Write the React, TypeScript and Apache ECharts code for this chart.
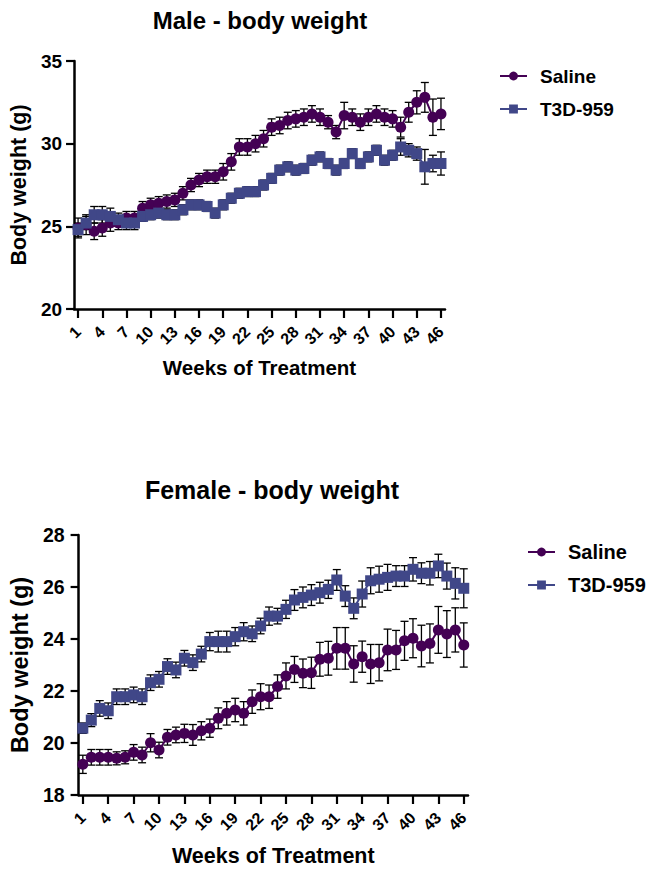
import React, { useEffect, useRef } from "react";
import * as echarts from "echarts";

const weeks: string[] = Array.from({ length: 46 }, (_, i) => String(i + 1));

const maleSaline = [24.9, 25.1, 24.7, 24.9, 25.2, 25.2, 25.5, 25.5, 26.1, 26.3, 26.4, 26.5, 26.6, 27.0, 27.5, 27.8, 28.0, 28.0, 28.3, 28.9, 29.8, 29.8, 30.0, 30.3, 31.0, 31.1, 31.4, 31.5, 31.6, 31.8, 31.6, 31.3, 30.7, 31.7, 31.6, 31.3, 31.6, 31.8, 31.6, 31.5, 31.0, 31.9, 32.5, 32.8, 31.6, 31.8];
const maleSalineErr = [0.6, 0.6, 0.5, 0.5, 0.5, 0.4, 0.4, 0.4, 0.4, 0.4, 0.4, 0.4, 0.4, 0.4, 0.4, 0.4, 0.4, 0.4, 0.5, 0.5, 0.5, 0.5, 0.5, 0.5, 0.5, 0.5, 0.5, 0.5, 0.5, 0.5, 0.5, 0.4, 0.4, 0.8, 0.5, 0.5, 0.5, 0.5, 0.5, 0.5, 0.6, 0.6, 0.7, 0.9, 1.1, 0.95];
const maleT3D = [24.8, 25.2, 25.7, 25.7, 25.6, 25.4, 25.2, 25.2, 25.6, 25.7, 25.8, 25.7, 25.7, 26.0, 26.3, 26.3, 26.2, 25.8, 26.3, 26.7, 27.0, 27.1, 27.1, 27.5, 27.9, 28.4, 28.6, 28.4, 28.5, 29.0, 29.2, 28.8, 28.4, 28.8, 29.4, 28.8, 29.2, 29.6, 29.0, 29.3, 29.8, 29.6, 29.4, 28.6, 28.8, 28.8];
const maleT3DErr = [0.4, 0.4, 0.5, 0.5, 0.5, 0.4, 0.4, 0.4, 0.3, 0.3, 0.3, 0.3, 0.3, 0.3, 0.3, 0.3, 0.3, 0.3, 0.3, 0.3, 0.3, 0.3, 0.3, 0.3, 0.3, 0.3, 0.3, 0.3, 0.3, 0.3, 0.3, 0.3, 0.3, 0.3, 0.3, 0.3, 0.3, 0.3, 0.3, 0.3, 0.5, 0.4, 0.4, 1.05, 0.5, 0.7];

const femaleSaline = [19.18, 19.45, 19.45, 19.45, 19.41, 19.45, 19.64, 19.54, 20.01, 19.73, 20.22, 20.31, 20.37, 20.31, 20.47, 20.57, 20.95, 21.14, 21.27, 21.14, 21.59, 21.78, 21.78, 22.17, 22.58, 22.83, 22.68, 22.7, 23.22, 23.26, 23.64, 23.64, 23.04, 23.32, 23.04, 23.09, 23.58, 23.58, 23.93, 24.03, 23.73, 23.83, 24.35, 24.19, 24.35, 23.77];
const femaleSalineErr = [0.35, 0.3, 0.3, 0.3, 0.25, 0.25, 0.3, 0.3, 0.35, 0.3, 0.3, 0.3, 0.35, 0.4, 0.35, 0.35, 0.4, 0.45, 0.45, 0.45, 0.45, 0.5, 0.45, 0.45, 0.5, 0.5, 0.55, 0.6, 0.65, 0.65, 0.8, 0.8, 0.7, 0.6, 0.75, 0.7, 0.8, 0.75, 0.75, 0.75, 0.8, 0.75, 0.9, 0.9, 0.85, 0.85];
const femaleT3D = [20.57, 20.88, 21.33, 21.24, 21.78, 21.78, 21.85, 21.78, 22.32, 22.45, 22.94, 22.81, 23.26, 23.09, 23.42, 23.9, 23.9, 23.9, 24.09, 24.28, 24.2, 24.5, 24.88, 24.88, 25.14, 25.5, 25.6, 25.69, 25.78, 25.91, 26.27, 25.65, 25.18, 25.73, 26.24, 26.3, 26.37, 26.42, 26.42, 26.68, 26.53, 26.53, 26.81, 26.42, 26.14, 25.95];
const femaleT3DErr = [0.2, 0.25, 0.3, 0.3, 0.3, 0.3, 0.3, 0.3, 0.3, 0.3, 0.3, 0.3, 0.3, 0.3, 0.3, 0.35, 0.4, 0.4, 0.35, 0.35, 0.3, 0.3, 0.35, 0.3, 0.35, 0.4, 0.4, 0.4, 0.4, 0.35, 0.4, 0.4, 0.4, 0.5, 0.5, 0.5, 0.5, 0.4, 0.4, 0.45, 0.4, 0.45, 0.45, 0.5, 0.6, 0.75];

const SALINE = "#440154";
const T3D = "#404788";
const FONT = "Liberation Sans";

function errData(vals: number[], errs: number[]) {
  return vals.map((v, i) => [i, v - errs[i], v + errs[i]]);
}

function errSeries(vals: number[], errs: number[], idx: number) {
  return {
    type: "custom",
    xAxisIndex: idx,
    yAxisIndex: idx,
    z: 1,
    silent: true,
    encode: { x: 0, y: [1, 2] },
    data: errData(vals, errs),
    renderItem: (params: any, api: any) => {
      const x = api.value(0);
      const lo = api.coord([x, api.value(1)]);
      const hi = api.coord([x, api.value(2)]);
      const w = 4;
      const st = { stroke: "#000", lineWidth: 1.3 };
      return {
        type: "group",
        children: [
          { type: "line", shape: { x1: lo[0], y1: lo[1], x2: hi[0], y2: hi[1] }, style: st },
          { type: "line", shape: { x1: hi[0] - w, y1: hi[1], x2: hi[0] + w, y2: hi[1] }, style: st },
          { type: "line", shape: { x1: lo[0] - w, y1: lo[1], x2: lo[0] + w, y2: lo[1] }, style: st },
        ],
      };
    },
  };
}

function lineSeries(name: string, vals: number[], idx: number, color: string, symbol: string, size: number) {
  return {
    type: "line",
    name,
    xAxisIndex: idx,
    yAxisIndex: idx,
    z: 3,
    data: vals,
    symbol,
    symbolSize: size,
    showAllSymbol: true,
    itemStyle: { color },
    lineStyle: { color, width: 2 },
  };
}

function xAxis(idx: number, nameSize: number, nameGap: number) {
  return {
    type: "category",
    gridIndex: idx,
    data: weeks,
    boundaryGap: true,
    name: "Weeks of Treatment",
    nameLocation: "middle",
    nameGap,
    nameTextStyle: { fontFamily: FONT, fontWeight: "bold", fontSize: nameSize, color: "#000" },
    axisLine: { lineStyle: { color: "#000", width: 2.5 } },
    axisTick: { show: true, interval: 2, alignWithLabel: true, length: 9, lineStyle: { color: "#000", width: 2.2 } },
    axisLabel: { interval: 2, rotate: 45, fontFamily: FONT, fontWeight: "bold", fontSize: 16, color: "#000", margin: 20 },
    splitLine: { show: false },
  };
}

function yAxis(idx: number, min: number, max: number, interval: number, nameSize: number, nameGap: number, labelSize: number, margin: number) {
  return {
    type: "value",
    gridIndex: idx,
    min,
    max,
    interval,
    name: "Body weight (g)",
    nameLocation: "middle",
    nameGap,
    nameTextStyle: { fontFamily: FONT, fontWeight: "bold", fontSize: nameSize, color: "#000" },
    axisLine: { show: true, lineStyle: { color: "#000", width: 2.5 } },
    axisTick: { show: true, length: 8, lineStyle: { color: "#000", width: 2.2 } },
    axisLabel: { fontFamily: FONT, fontWeight: "bold", fontSize: labelSize, color: "#000", margin },
    splitLine: { show: false },
  };
}

function legend(left: number, top: number, size: number) {
  return {
    orient: "vertical",
    left,
    top,
    itemWidth: 27,
    itemHeight: 11,
    itemGap: 13,
    data: ["Saline", "T3D-959"],
    textStyle: { fontFamily: FONT, fontWeight: "bold", fontSize: size, lineHeight: 20, color: "#000", padding: [0, 0, 0, 8] },
  };
}

export default function App() {
  const ref = useRef<HTMLDivElement>(null);
  useEffect(() => {
    if (!ref.current) return;
    const chart = echarts.init(ref.current, null, { renderer: "svg" });
    chart.setOption({
      animation: false,
      backgroundColor: "#fff",
      title: [
        { text: "Male - body weight", left: 255, top: 3, textAlign: "center", textStyle: { fontFamily: FONT, fontWeight: "bold", fontSize: 24, color: "#000" } },
        { text: "Female - body weight", left: 267, top: 472, textAlign: "center", textStyle: { fontFamily: FONT, fontWeight: "bold", fontSize: 25, color: "#000" } },
      ],
      legend: [legend(494, 61, 19), legend(522, 537, 20)],
      grid: [
        { left: 73, width: 372, top: 61, height: 248, containLabel: false },
        { left: 77, width: 391, top: 535, height: 260, containLabel: false },
      ],
      xAxis: [xAxis(0, 20.5, 48), xAxis(1, 21.5, 50)],
      yAxis: [yAxis(0, 20, 35, 5, 21.5, 41, 19, 12), yAxis(1, 18, 28, 2, 23.5, 42, 19.5, 14)],
      series: [
        errSeries(maleSaline, maleSalineErr, 0),
        errSeries(maleT3D, maleT3DErr, 0),
        lineSeries("Saline", maleSaline, 0, SALINE, "circle", 11),
        lineSeries("T3D-959", maleT3D, 0, T3D, "rect", 11),
        errSeries(femaleSaline, femaleSalineErr, 1),
        errSeries(femaleT3D, femaleT3DErr, 1),
        lineSeries("Saline", femaleSaline, 1, SALINE, "circle", 11),
        lineSeries("T3D-959", femaleT3D, 1, T3D, "rect", 11),
      ],
    });
    return () => chart.dispose();
  }, []);
  return <div ref={ref} style={{ position: "fixed", left: 0, top: 0, width: 654, height: 872 }} />;
}
